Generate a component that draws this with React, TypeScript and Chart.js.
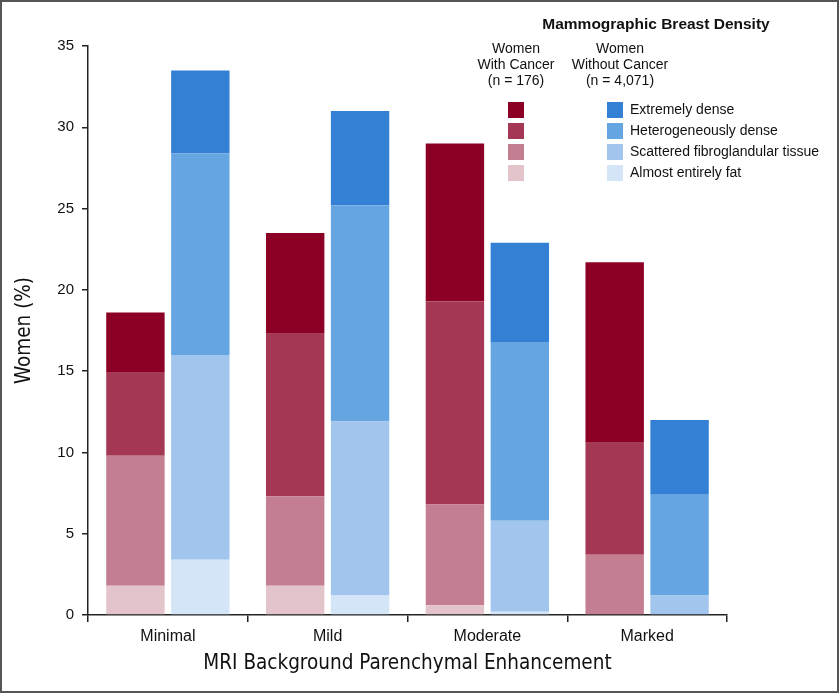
import React, { useEffect, useRef } from "react";
import { Chart, registerables } from "chart.js";

Chart.register(...registerables);

const categories = ["Minimal", "Mild", "Moderate", "Marked"];
const densityLevels = [
  "Almost entirely fat",
  "Scattered fibroglandular tissue",
  "Heterogeneously dense",
  "Extremely dense",
];

// Women with cancer (n = 176), % per density level
const cancerFat = [1.8, 1.8, 0.6, 0];
const cancerScattered = [8.0, 5.5, 6.2, 3.7];
const cancerHetero = [5.1, 10.0, 12.5, 6.9];
const cancerExtreme = [3.7, 6.2, 9.7, 11.1];

// Women without cancer (n = 4,071), % per density level
const noCancerFat = [3.4, 1.2, 0.2, 0];
const noCancerScattered = [12.6, 10.7, 5.6, 1.2];
const noCancerHetero = [12.4, 13.3, 11.0, 6.2];
const noCancerExtreme = [5.1, 5.8, 6.1, 4.6];

const yTicks = [0, 5, 10, 15, 20, 25, 30, 35];

const redColors = ["#E4C4CB", "#C37E91", "#A43854", "#8B0024"];
const blueColors = ["#D4E5F7", "#A2C5EE", "#65A5E1", "#3380D4"];

const legendTitle = "Mammographic Breast Density";
const groupHeaders = [
  ["Women", "With Cancer", "(n = 176)"],
  ["Women", "Without Cancer", "(n = 4,071)"],
];

const FONT = "'Liberation Sans', Arial, Helvetica, sans-serif";
const NARROW = "'Liberation Sans Narrow', 'DejaVu Sans Condensed', 'Liberation Sans', sans-serif";

const legendPlugin = {
  id: "customLegend",
  afterDraw(chart: any) {
    const ctx = chart.ctx;
    ctx.save();
    // frame
    ctx.strokeStyle = "#555";
    ctx.lineWidth = 2;
    ctx.strokeRect(1, 1, chart.width - 2, chart.height - 2);

    ctx.fillStyle = "#111";
    ctx.textAlign = "center";
    ctx.textBaseline = "middle";
    ctx.font = `bold 15.5px ${FONT}`;
    ctx.fillText(legendTitle, 656, 25);

    ctx.font = `14px ${FONT}`;
    const headerX = [516, 620];
    groupHeaders.forEach((lines, gi) => {
      lines.forEach((ln, li) => {
        ctx.fillText(ln, headerX[gi], 49 + li * 16);
      });
    });

    const ds = chart.data.datasets;
    const rowTop = [102, 123, 144, 165];
    // legend rows from top: Extremely dense -> Almost entirely fat
    const cancerSets = ds.filter((d: any) => d.stack === "cancer").slice().reverse();
    const noSets = ds.filter((d: any) => d.stack === "nocancer").slice().reverse();
    ctx.textAlign = "left";
    cancerSets.forEach((d: any, i: number) => {
      ctx.fillStyle = d.backgroundColor;
      ctx.fillRect(508, rowTop[i], 16, 16);
    });
    noSets.forEach((d: any, i: number) => {
      ctx.fillStyle = d.backgroundColor;
      ctx.fillRect(607, rowTop[i], 16, 16);
      ctx.fillStyle = "#111";
      ctx.fillText(d.density, 630, rowTop[i] + 8);
    });
    ctx.restore();
  },
};

export default function App() {
  const canvasRef = useRef<HTMLCanvasElement | null>(null);

  useEffect(() => {
    if (!canvasRef.current) return;
    const cancerSeries = [cancerFat, cancerScattered, cancerHetero, cancerExtreme];
    const noCancerSeries = [noCancerFat, noCancerScattered, noCancerHetero, noCancerExtreme];
    const datasets: any[] = [];
    cancerSeries.forEach((arr, i) => {
      datasets.push({
        label: "With Cancer – " + densityLevels[i],
        density: densityLevels[i],
        data: arr,
        backgroundColor: redColors[i],
        stack: "cancer",
        borderWidth: 0,
        categoryPercentage: 0.8125,
        barPercentage: 0.9,
      });
    });
    noCancerSeries.forEach((arr, i) => {
      datasets.push({
        label: "Without Cancer – " + densityLevels[i],
        density: densityLevels[i],
        data: arr,
        backgroundColor: blueColors[i],
        stack: "nocancer",
        borderWidth: 0,
        categoryPercentage: 0.8125,
        barPercentage: 0.9,
      });
    });

    const chart = new Chart(canvasRef.current, {
      type: "bar",
      data: { labels: categories, datasets },
      plugins: [legendPlugin],
      options: {
        animation: false,
        responsive: false,
        maintainAspectRatio: false,
        layout: { padding: { top: 46, right: 112, left: 0, bottom: 0 } },
        plugins: { legend: { display: false }, tooltip: { enabled: false } },
        scales: {
          x: {
            stacked: true,
            border: { display: true, color: "#222", width: 1.5 },
            grid: { drawOnChartArea: false, drawTicks: true, tickLength: 7, color: "#222", lineWidth: 1.5, offset: true },
            ticks: { color: "#111", font: { family: FONT, size: 16 }, padding: 5 },
            title: {
              display: true,
              text: "MRI Background Parenchymal Enhancement",
              color: "#111",
              font: { family: NARROW, size: 20.5 },
              padding: { top: 2, bottom: 17 },
            },
            afterFit: (s: any) => {
              s.height = 78;
            },
          },
          y: {
            stacked: true,
            min: 0,
            max: 35,
            afterBuildTicks: (s: any) => {
              s.ticks = yTicks.map((v) => ({ value: v }));
            },
            border: { display: true, color: "#222", width: 1.5 },
            grid: { drawOnChartArea: false, drawTicks: true, tickLength: 6, color: "#222", lineWidth: 1.5 },
            ticks: { color: "#111", font: { family: FONT, size: 15 }, padding: 8 },
            title: {
              display: true,
              text: "Women (%)",
              color: "#111",
              font: { family: NARROW, size: 20.5 },
              padding: { top: 12, bottom: 0 },
            },
            afterFit: (s: any) => {
              s.width = 88;
            },
          },
        },
      },
    });
    return () => chart.destroy();
  }, []);

  return (
    <div style={{ position: "fixed", left: 0, top: 0, width: 839, height: 693, background: "#fff" }}>
      <canvas ref={canvasRef} width={839} height={693} style={{ width: 839, height: 693 }} />
    </div>
  );
}
